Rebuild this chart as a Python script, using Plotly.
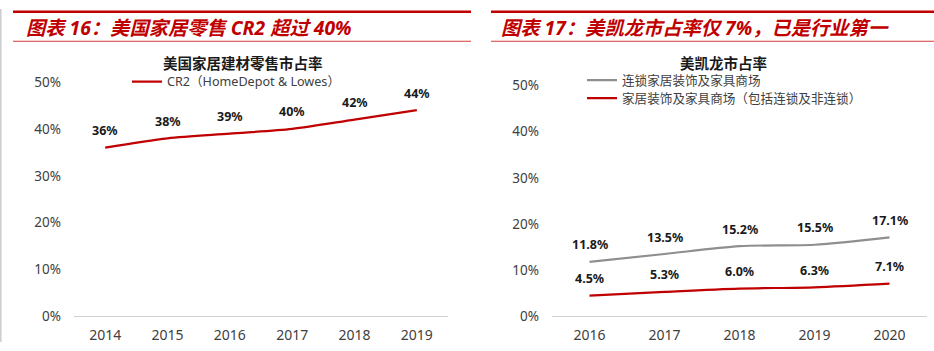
import plotly.graph_objects as go

# ---- data ----
left_years = ["2014", "2015", "2016", "2017", "2018", "2019"]
left_cr2 = [0.36, 0.38, 0.39, 0.40, 0.42, 0.44]
left_labels = ["36%", "38%", "39%", "40%", "42%", "44%"]

right_years = ["2016", "2017", "2018", "2019", "2020"]
right_chain = [0.118, 0.135, 0.152, 0.155, 0.171]
right_all = [0.045, 0.053, 0.060, 0.063, 0.071]

y_ticks = [0, 0.1, 0.2, 0.3, 0.4, 0.5]
y_ticklabels = ["0%", "10%", "20%", "30%", "40%", "50%"]

left_title = "图表 16：美国家居零售 CR2 超过 40%"
right_title = "图表 17：美凯龙市占率仅 7%，已是行业第一"
left_sub = "美国家居建材零售市占率"
right_sub = "美凯龙市占率"
name_cr2 = "CR2（HomeDepot & Lowes）"
name_chain = "连锁家居装饰及家具商场"
name_all = "家居装饰及家具商场（包括连锁及非连锁）"

W, H = 934, 351
RED = "#C00000"
GRAY = "#8F8F8F"
FONT = "Noto Sans, Noto Sans CJK SC, sans-serif"

def px(x):
    return x / W

def py(y):
    return 1 - y / H

fig = go.Figure()

fig.add_trace(go.Scatter(x=left_years, y=left_cr2, name=name_cr2, mode="lines",
                         line=dict(color=RED, width=2.2, shape="spline", smoothing=0.8),
                         xaxis="x", yaxis="y", legend="legend", hoverinfo="skip"))
fig.add_trace(go.Scatter(x=right_years, y=right_chain, name=name_chain, mode="lines",
                         line=dict(color=GRAY, width=2.2, shape="spline", smoothing=0.8),
                         xaxis="x2", yaxis="y2", legend="legend2", hoverinfo="skip"))
fig.add_trace(go.Scatter(x=right_years, y=right_all, name=name_all, mode="lines",
                         line=dict(color=RED, width=2.2, shape="spline", smoothing=0.8),
                         xaxis="x2", yaxis="y2", legend="legend3", hoverinfo="skip"))

annotations = []
lab_font = dict(family=FONT, size=12.5, color="#1A1A1A", weight="bold")
for i, (v, t) in enumerate(zip(left_cr2, left_labels)):
    annotations.append(dict(x=i, y=v, xref="x", yref="y", text=t, showarrow=False,
                            yshift=17, font=lab_font))
for i, v in enumerate(right_chain):
    annotations.append(dict(x=i, y=v, xref="x2", yref="y2", text=f"{v*100:.1f}%",
                            showarrow=False, yshift=17, font=lab_font))
for i, v in enumerate(right_all):
    annotations.append(dict(x=i, y=v, xref="x2", yref="y2", text=f"{v*100:.1f}%",
                            showarrow=False, yshift=17, font=lab_font))

title_font = dict(family=FONT, size=19.3, color=RED, weight="bold", style="italic")
annotations.append(dict(x=px(188.5), y=py(20), xref="paper", yref="paper", text=left_title,
                        showarrow=False, xanchor="center", yanchor="middle", font=title_font))
annotations.append(dict(x=px(695), y=py(20), xref="paper", yref="paper", text=right_title,
                        showarrow=False, xanchor="center", yanchor="middle", font=title_font))
sub_font = dict(family=FONT, size=14.5, color="#1A1A1A", weight="bold")
annotations.append(dict(x=px(243), y=py(57), xref="paper", yref="paper", text=left_sub,
                        showarrow=False, xanchor="center", yanchor="middle", font=sub_font))
annotations.append(dict(x=px(723), y=py(57), xref="paper", yref="paper", text=right_sub,
                        showarrow=False, xanchor="center", yanchor="middle", font=sub_font))

shapes = [
    dict(type="line", xref="paper", yref="paper", x0=px(13), x1=px(471), y0=py(3), y1=py(3),
         line=dict(color=RED, width=2.5)),
    dict(type="line", xref="paper", yref="paper", x0=px(13), x1=px(471), y0=py(34), y1=py(34),
         line=dict(color="#D63B3B", width=1)),
    dict(type="line", xref="paper", yref="paper", x0=px(491), x1=px(934), y0=py(3), y1=py(3),
         line=dict(color=RED, width=2.5)),
    dict(type="line", xref="paper", yref="paper", x0=px(491), x1=px(934), y0=py(34), y1=py(34),
         line=dict(color="#D63B3B", width=1)),
    dict(type="line", xref="paper", yref="paper", x0=px(0.8), x1=px(0.8), y0=0, y1=1,
         line=dict(color="#CFCFCF", width=1.6)),
]

tickfont = dict(family=FONT, size=13.5, color="#404040")
xtickfont = dict(family=FONT, size=14, color="#404040")

axis_common_x = dict(type="category", showgrid=False, showline=True, linecolor="#D0D0D0",
                     linewidth=1, ticks="", tickfont=xtickfont, fixedrange=True,
                     zeroline=False, ticklabelstandoff=6)
axis_common_y = dict(range=[0, 0.5], tickvals=y_ticks, ticktext=y_ticklabels,
                     showgrid=False, showline=False, zeroline=False, ticks="",
                     tickfont=tickfont, fixedrange=True, ticklabelstandoff=12)

legend_font = dict(family=FONT, size=12.6, color="#404040")

fig.update_layout(
    width=W, height=H,
    margin=dict(l=0, r=0, t=0, b=0),
    paper_bgcolor="white", plot_bgcolor="white",
    font=dict(family=FONT),
    xaxis=dict(domain=[px(74), px(448)], anchor="y",
               range=[-0.5, len(left_years) - 0.5], **axis_common_x),
    yaxis=dict(domain=[py(324), py(77)], anchor="x", **axis_common_y),
    xaxis2=dict(domain=[px(552), px(927)], anchor="y2",
                range=[-0.5, len(right_years) - 0.5], **axis_common_x),
    yaxis2=dict(domain=[py(324), py(80.5)], anchor="x2", **axis_common_y),
    legend=dict(x=px(127), y=py(61), xanchor="left", yanchor="top",
                bgcolor="rgba(0,0,0,0)", font=legend_font, itemwidth=30),
    legend2=dict(x=px(582), y=py(59.5), xanchor="left", yanchor="top",
                 bgcolor="rgba(0,0,0,0)", font=legend_font, itemwidth=30),
    legend3=dict(x=px(582), y=py(78.5), xanchor="left", yanchor="top",
                 bgcolor="rgba(0,0,0,0)", font=legend_font, itemwidth=30),
    annotations=annotations,
    shapes=shapes,
    showlegend=True,
)

fig.write_html("out.html")
